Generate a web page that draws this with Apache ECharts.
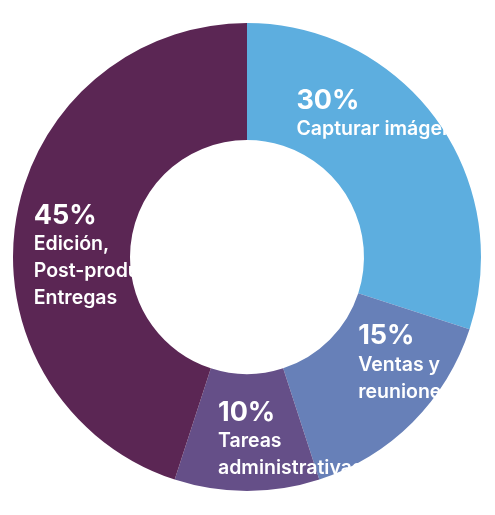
<!DOCTYPE html>
<html>
<head>
<meta charset="utf-8">
<script src="https://cdn.jsdelivr.net/npm/echarts@6/dist/echarts.min.js"></script>
<style>
html,body{margin:0;padding:0;background:#fff;}
#chart{width:495px;height:515px;}
</style>
</head>
<body>
<div id="chart"></div>
<script>
const categories = ['Capturar imágenes', 'Ventas y\nreuniones', 'Tareas\nadministrativas', 'Edición,\nPost-producción,\nEntregas'];
const values = [30, 15, 10, 45];
const colors = ['#5DAEDF', '#6780B8', '#654F88', '#5B2654'];
const labelShift = [[-95, -66], [-15, -62], [-29, -38], [-37, -28]];

const chart = echarts.init(document.getElementById('chart'), null, {renderer: 'canvas'});
chart.setOption({
  animation: false,
  series: [{
    type: 'pie',
    center: [247, 257],
    radius: [117, 234],
    startAngle: 90,
    clockwise: true,
    avoidLabelOverlap: false,
    silent: true,
    data: categories.map((c, i) => ({name: c, value: values[i], itemStyle: {color: colors[i]}})),
    label: {
      show: true,
      position: 'inside',
      formatter: p => '{p|' + p.value + '%}\n{t|' + p.name + '}',
      color: '#fff',
      rich: {
        p: {fontFamily: 'Inter', fontWeight: 700, fontSize: 27, lineHeight: 30, color: '#fff', align: 'left'},
        t: {fontFamily: 'Inter', fontWeight: 600, fontSize: 19.5, lineHeight: 27, color: '#fff', align: 'left'}
      }
    },
    labelLine: {show: false},
    labelLayout: p => ({
      align: 'left',
      verticalAlign: 'top',
      dx: labelShift[p.dataIndex][0],
      dy: labelShift[p.dataIndex][1]
    })
  }]
});
</script>
</body>
</html>
